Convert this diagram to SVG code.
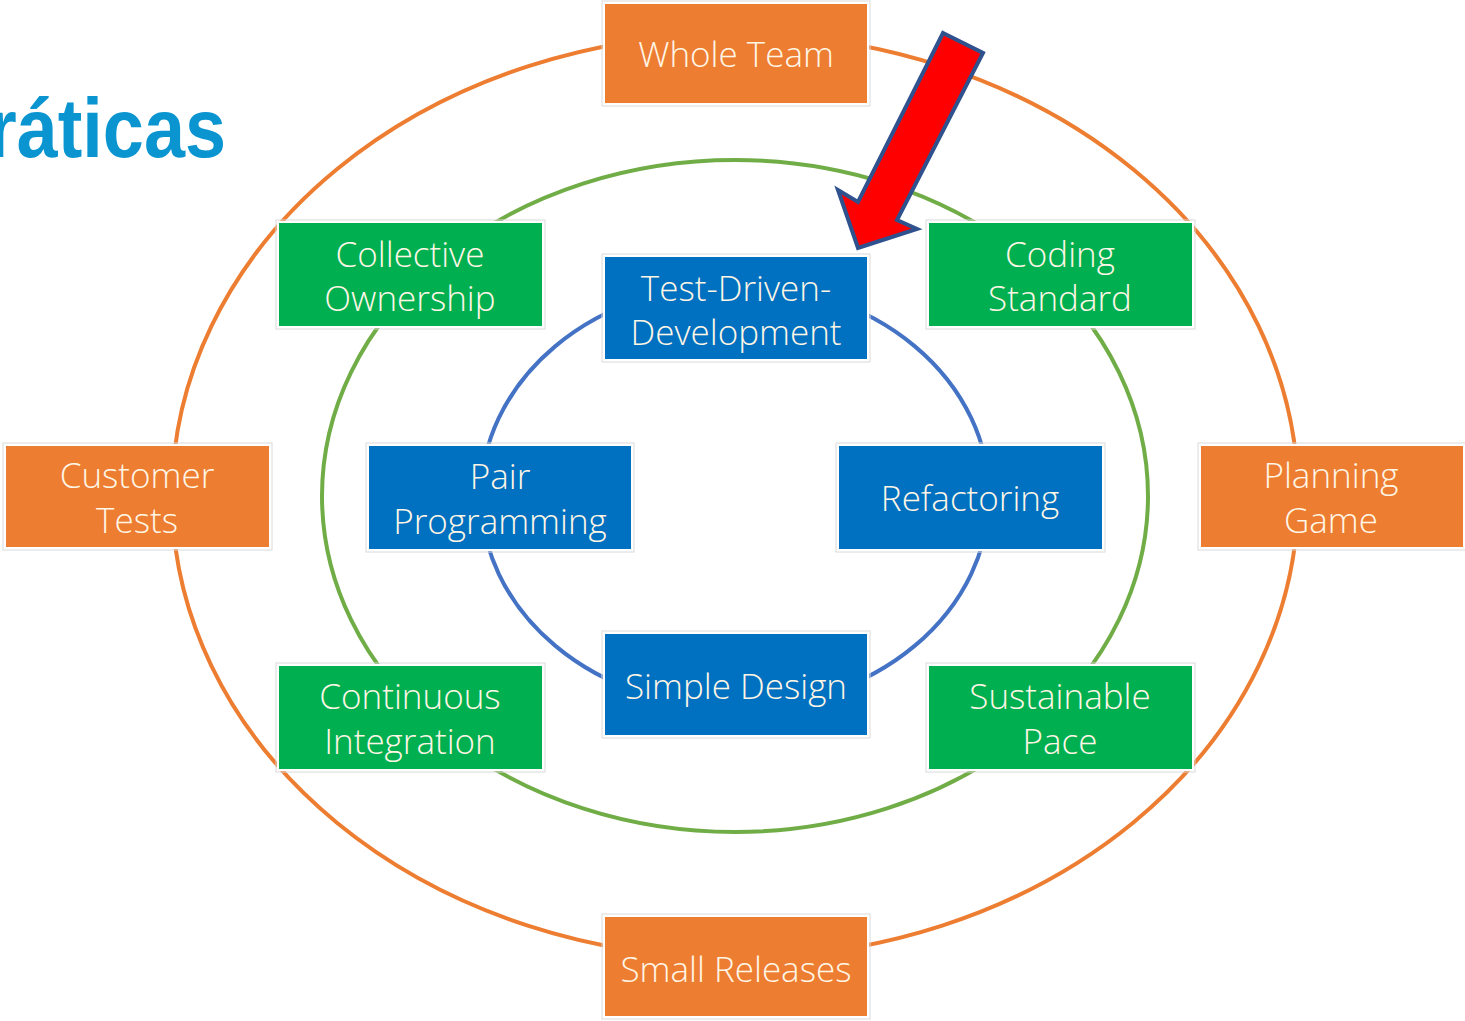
<svg xmlns="http://www.w3.org/2000/svg" width="1465" height="1021" viewBox="0 0 1465 1021">
<style>
.o{fill:#ED7D31}.g{fill:#00B050}.b{fill:#0070C0}
.frame{fill:none;stroke:#DADADA;stroke-width:1}
.box{stroke:#FFFFFF;stroke-width:2}
.t{font-family:"Open Sans","Noto Sans","Liberation Sans",sans-serif;font-weight:300;font-size:35px;fill:#FFF6E6;text-anchor:middle}
.ring{fill:none;stroke-width:4}
</style>
<rect width="1465" height="1021" fill="#FFFFFF"/>
<text x="-12" y="157" font-family="Liberation Sans, Arial, sans-serif" font-weight="bold" font-size="84" fill="#0A95D0" textLength="238" lengthAdjust="spacingAndGlyphs">ráticas</text>
<g id="connectors">
<ellipse class="ring" cx="735" cy="496" rx="563" ry="462" stroke="#ED7D31"/>
<ellipse class="ring" cx="735" cy="496" rx="413" ry="336" stroke="#70AD47"/>
<ellipse class="ring" cx="735" cy="496" rx="254" ry="212" stroke="#4472C4"/>
</g>
<g id="whole-team"><rect class="frame" x="602" y="1" width="268" height="105"/><rect class="box o" x="604" y="3" width="264" height="101"/><text class="t" x="736" y="67">Whole Team</text></g>
<g id="small-releases"><rect class="frame" x="602" y="914" width="268" height="105"/><rect class="box o" x="604" y="916" width="264" height="101"/><text class="t" x="736" y="982">Small Releases</text></g>
<g id="customer-tests"><rect class="frame" x="3" y="443" width="269" height="107"/><rect class="box o" x="5" y="445" width="265" height="103"/><text class="t" x="137" y="488">Customer</text><text class="t" x="137" y="533">Tests</text></g>
<g id="planning-game"><rect class="frame" x="1198" y="443" width="268" height="107"/><rect class="box o" x="1200" y="445" width="264" height="103"/><text class="t" x="1331" y="488">Planning</text><text class="t" x="1331" y="533">Game</text></g>
<g id="collective-ownership"><rect class="frame" x="276" y="220" width="269" height="109"/><rect class="box g" x="278" y="222" width="265" height="105"/><text class="t" x="410" y="267">Collective</text><text class="t" x="410" y="311">Ownership</text></g>
<g id="coding-standard"><rect class="frame" x="926" y="220" width="269" height="109"/><rect class="box g" x="928" y="222" width="265" height="105"/><text class="t" x="1060" y="267">Coding</text><text class="t" x="1060" y="311">Standard</text></g>
<g id="continuous-integration"><rect class="frame" x="276" y="663" width="269" height="109"/><rect class="box g" x="278" y="665" width="265" height="105"/><text class="t" x="410" y="709">Continuous</text><text class="t" x="410" y="754">Integration</text></g>
<g id="sustainable-pace"><rect class="frame" x="926" y="663" width="269" height="109"/><rect class="box g" x="928" y="665" width="265" height="105"/><text class="t" x="1060" y="709">Sustainable</text><text class="t" x="1060" y="754">Pace</text></g>
<g id="tdd"><rect class="frame" x="602" y="254" width="268" height="108"/><rect class="box b" x="604" y="256" width="264" height="104"/><text class="t" x="736" y="301">Test-Driven-</text><text class="t" x="736" y="345">Development</text></g>
<g id="pair-programming"><rect class="frame" x="366" y="443" width="268" height="109"/><rect class="box b" x="368" y="445" width="264" height="105"/><text class="t" x="500" y="489">Pair</text><text class="t" x="500" y="534">Programming</text></g>
<g id="refactoring"><rect class="frame" x="836" y="443" width="269" height="109"/><rect class="box b" x="838" y="445" width="265" height="105"/><text class="t" x="970" y="511">Refactoring</text></g>
<g id="simple-design"><rect class="frame" x="602" y="631" width="268" height="107"/><rect class="box b" x="604" y="633" width="264" height="103"/><text class="t" x="736" y="699">Simple Design</text></g>
<g id="arrow"><polygon points="943,33 983,53 897,220 917,229 858,248 838,190 858,202" fill="#FF0000" stroke="#2F528F" stroke-width="4" stroke-linejoin="miter"/></g>
</svg>
